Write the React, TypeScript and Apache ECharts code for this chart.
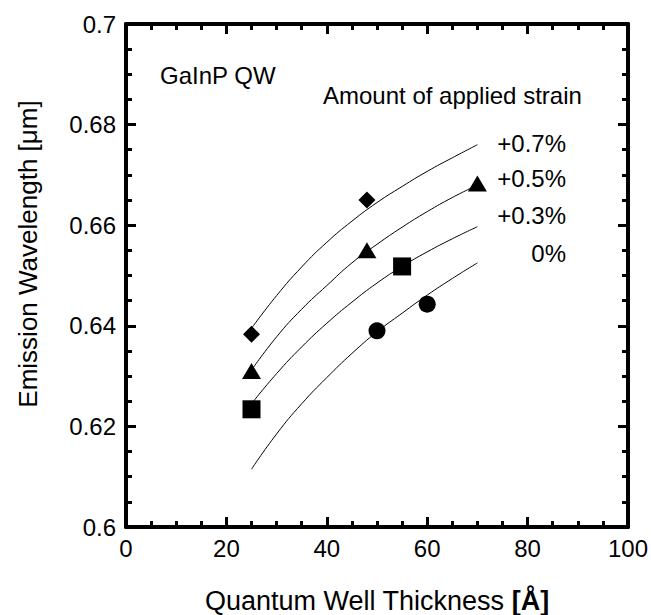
import React, { useEffect, useRef } from "react";
import * as echarts from "echarts";

const curveX = [25, 30, 35, 40, 45, 50, 55, 60, 65, 70];
const curve0 = [0.6115, 0.6185, 0.6245, 0.6297, 0.6345, 0.6388, 0.6425, 0.6461, 0.6494, 0.6525];
const curve03 = [0.6245, 0.6305, 0.6358, 0.6405, 0.6447, 0.6485, 0.6518, 0.6547, 0.6573, 0.6597];
const curve05 = [0.6312, 0.6378, 0.6433, 0.648, 0.6525, 0.6562, 0.6596, 0.6627, 0.6655, 0.668];
const curve07 = [0.6395, 0.646, 0.6517, 0.6566, 0.6608, 0.6645, 0.6677, 0.6707, 0.6734, 0.676];

const diamondX = [25, 48];
const diamondY = [0.6383, 0.665];
const triangleX = [25, 48, 70];
const triangleY = [0.631, 0.655, 0.6683];
const squareX = [25, 55];
const squareY = [0.6234, 0.6518];
const circleX = [50, 60];
const circleY = [0.639, 0.6443];

const strainLabels = ["+0.7%", "+0.5%", "+0.3%", "0%"];

const FONT = "'Liberation Sans', Arial, Helvetica, sans-serif";

const zip = (xs: number[], ys: number[]) => xs.map((x, i) => [x, ys[i]]);

export default function App() {
  const ref = useRef<HTMLDivElement>(null);
  useEffect(() => {
    document.body.style.margin = "0";
    const chart = echarts.init(ref.current!, null, { renderer: "svg" });
    const mkAxisLine = () => ({ show: true, onZero: false, lineStyle: { color: "#000", width: 4 } });
    const mkTick = () => ({ show: true, inside: true, length: 10, lineStyle: { color: "#000", width: 3 } });
    const mkMinor = () => ({ show: true, splitNumber: 4, length: 6, lineStyle: { color: "#000", width: 3 } });
    const lineSeries = (data: number[]) => ({
      type: "line",
      data: zip(curveX, data),
      smooth: true,
      showSymbol: false,
      lineStyle: { color: "#000", width: 1 },
      z: 2,
    });
    const scat = (xs: number[], ys: number[], symbol: string, size: any) => ({
      type: "scatter",
      data: zip(xs, ys),
      symbol,
      symbolSize: size,
      itemStyle: { color: "#000", opacity: 1 },
      z: 3,
    });
    const labelText = (text: string, x: number, y: number, align: string) => ({
      type: "text",
      x,
      y,
      style: {
        text,
        fill: "#000",
        font: `24px ${FONT}`,
        textAlign: align,
        textVerticalAlign: "middle",
      },
    });
    const axisBase = (pos: string) => ({
      type: "value",
      position: pos,
      axisLine: mkAxisLine(),
      axisTick: mkTick(),
      minorTick: mkMinor(),
      splitLine: { show: false },
      minorSplitLine: { show: false },
    });
    chart.setOption({
      animation: false,
      backgroundColor: "#fff",
      grid: { left: 126, right: 23, top: 24, bottom: 88, containLabel: false, outerBoundsMode: "none" },
      textStyle: { fontFamily: FONT },
      xAxis: [
        {
          ...axisBase("bottom"),
          min: 0,
          max: 100,
          interval: 20,
          axisLabel: { show: true, color: "#000", fontSize: 24, margin: 9, fontFamily: FONT },
          name: "Quantum Well Thickness {b|[Å]}",
          nameLocation: "middle",
          nameGap: 60,
          nameTextStyle: {
            color: "#000",
            fontSize: 27,
            fontFamily: FONT,
            rich: { b: { fontSize: 27, fontWeight: "bold", fontFamily: FONT, color: "#000" } },
          },
        },
        {
          ...axisBase("top"),
          min: 0,
          max: 100,
          interval: 20,
          axisLabel: { show: false },
        },
      ],
      yAxis: [
        {
          ...axisBase("left"),
          min: 0.6,
          max: 0.7,
          interval: 0.02,
          axisLabel: {
            show: true,
            color: "#000",
            fontSize: 24,
            margin: 10,
            fontFamily: FONT,
            formatter: (v: number) => String(Number(v.toFixed(3))),
          },
        },
        {
          ...axisBase("right"),
          min: 0.6,
          max: 0.7,
          interval: 0.02,
          axisLabel: { show: false },
        },
      ],
      series: [
        lineSeries(curve07),
        lineSeries(curve05),
        lineSeries(curve03),
        lineSeries(curve0),
        scat(diamondX, diamondY, "diamond", 17),
        scat(triangleX, triangleY, "triangle", [19, 16]),
        scat(squareX, squareY, "rect", 18),
        scat(circleX, circleY, "circle", 17),
      ],
      graphic: [
        {
          type: "text",
          x: 28,
          y: 254,
          rotation: Math.PI / 2,
          style: {
            text: "Emission Wavelength [μm]",
            fill: "#000",
            font: `26px ${FONT}`,
            textAlign: "center",
            textVerticalAlign: "middle",
          },
        },
        labelText("GaInP QW", 160, 75, "left"),
        labelText("Amount of applied strain", 323, 95, "left"),
        labelText(strainLabels[0], 566, 143, "right"),
        labelText(strainLabels[1], 566, 178, "right"),
        labelText(strainLabels[2], 566, 215, "right"),
        labelText(strainLabels[3], 566, 253, "right"),
      ],
    });
    return () => chart.dispose();
  }, []);
  return <div ref={ref} style={{ width: 651, height: 615 }} />;
}
